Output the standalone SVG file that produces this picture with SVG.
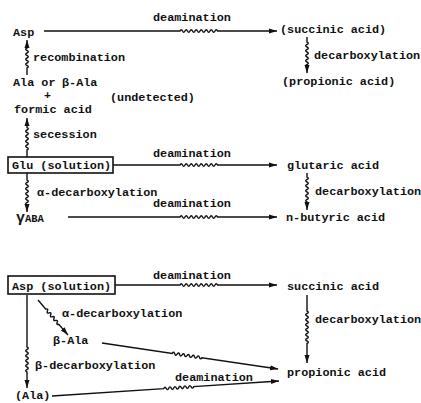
<svg xmlns="http://www.w3.org/2000/svg" width="421" height="403" viewBox="0 0 421 403">
  <style>
    .t { font-family: "Liberation Mono", "DejaVu Sans Mono", monospace; font-weight: bold; font-size: 11.8px; fill: #111; }
    .ln { fill: none; stroke: #111; stroke-width: 1.4; marker-end: url(#ah); }
    .box { fill: #fff; stroke: #111; stroke-width: 1.6; }
  </style>
  <defs>
    <marker id="ah" markerUnits="userSpaceOnUse" markerWidth="9" markerHeight="6" refX="8" refY="3" orient="auto">
      <path d="M0 0.5 L8 3 L0 5.5 z" fill="#111"/>
    </marker>
  </defs>
  <rect width="421" height="403" fill="#fff"/>

  <!-- connectors: straight runs with a wavy section -->
  <g id="connectors">
    <path class="ln" d="M44 31 H180 q1.25 -2.6 2.5 0 t2.5 0 t2.5 0 t2.5 0 t2.5 0 t2.5 0 t2.5 0 t2.5 0 t2.5 0 t2.5 0 t2.5 0 t2.5 0 t2.5 0 t2.5 0 t2.5 0 H277"/>
    <path class="ln" d="M307 37 V42 q2.6 1.25 0 2.5 t0 2.5 t0 2.5 t0 2.5 t0 2.5 t0 2.5 t0 2.5 t0 2.5 t0 2.5 t0 2.5 V73"/>
    <path class="ln" d="M27 75 V68 q2.6 -1.25 0 -2.5 t0 -2.5 t0 -2.5 t0 -2.5 t0 -2.5 t0 -2.5 t0 -2.5 t0 -2.5 V40"/>
    <path class="ln" d="M27 157 V150 q2.6 -1.25 0 -2.5 t0 -2.5 t0 -2.5 t0 -2.5 t0 -2.5 t0 -2.5 t0 -2.5 t0 -2.5 t0 -2.5 V118"/>
    <path class="ln" d="M113 165 H180 q1.25 -2.6 2.5 0 t2.5 0 t2.5 0 t2.5 0 t2.5 0 t2.5 0 t2.5 0 t2.5 0 t2.5 0 t2.5 0 t2.5 0 t2.5 0 t2.5 0 t2.5 0 t2.5 0 H277"/>
    <path class="ln" d="M307 173 V177 q2.6 1.25 0 2.5 t0 2.5 t0 2.5 t0 2.5 t0 2.5 t0 2.5 t0 2.5 t0 2.5 t0 2.5 t0 2.5 V210"/>
    <path class="ln" d="M27 173 V180 q2.6 1.25 0 2.5 t0 2.5 t0 2.5 t0 2.5 t0 2.5 t0 2.5 t0 2.5 t0 2.5 t0 2.5 t0 2.5 V212"/>
    <path class="ln" d="M68 217 H180 q1.25 -2.6 2.5 0 t2.5 0 t2.5 0 t2.5 0 t2.5 0 t2.5 0 t2.5 0 t2.5 0 t2.5 0 t2.5 0 t2.5 0 t2.5 0 t2.5 0 t2.5 0 t2.5 0 H277"/>
    <path class="ln" d="M115 285 H180 q1.25 -2.6 2.5 0 t2.5 0 t2.5 0 t2.5 0 t2.5 0 t2.5 0 t2.5 0 t2.5 0 t2.5 0 t2.5 0 t2.5 0 t2.5 0 t2.5 0 t2.5 0 t2.5 0 H277"/>
    <path class="ln" d="M307 295 V311 q2.6 1.25 0 2.5 t0 2.5 t0 2.5 t0 2.5 t0 2.5 t0 2.5 t0 2.5 t0 2.5 t0 2.5 t0 2.5 t0 2.5 t0 2.5 t0 2.5 V363"/>
    <path class="ln" d="M27 295 V347 q2.6 1.25 0 2.5 t0 2.5 t0 2.5 t0 2.5 t0 2.5 t0 2.5 t0 2.5 t0 2.5 t0 2.5 t0 2.5 V388"/>
    <path class="ln" transform="translate(38 300) rotate(49.4)" d="M0 0 H12 q1.25 -2.6 2.5 0 t2.5 0 t2.5 0 t2.5 0 t2.5 0 t2.5 0 t2.5 0 t2.5 0 H46"/>
    <path class="ln" transform="translate(102 343) rotate(8.4)" d="M0 0 H71 q1.25 -2.6 2.5 0 t2.5 0 t2.5 0 t2.5 0 t2.5 0 t2.5 0 t2.5 0 t2.5 0 t2.5 0 t2.5 0 t2.5 0 t2.5 0 H178"/>
    <path class="ln" transform="translate(52 396) rotate(-3.78)" d="M0 0 H112 q1.25 -2.6 2.5 0 t2.5 0 t2.5 0 t2.5 0 t2.5 0 t2.5 0 t2.5 0 t2.5 0 t2.5 0 t2.5 0 t2.5 0 t2.5 0 H227.5"/>

    <g id="edge-labels">
      <text class="t" x="153" y="21">deamination</text>
      <text class="t" x="314" y="59">decarboxylation</text>
      <text class="t" x="33" y="61">recombination</text>
      <text class="t" x="33" y="138">secession</text>
      <text class="t" x="153" y="157">deamination</text>
      <text class="t" x="315" y="195">decarboxylation</text>
      <text class="t" x="37" y="196">α-decarboxylation</text>
      <text class="t" x="153" y="207">deamination</text>
      <text class="t" x="153" y="279">deamination</text>
      <text class="t" x="62" y="317">α-decarboxylation</text>
      <text class="t" x="315" y="323">decarboxylation</text>
      <text class="t" x="35" y="369">β-decarboxylation</text>
      <text class="t" x="175" y="381">deamination</text>
    </g>
  </g>

  <!-- upper scheme -->
  <g id="asp"><text class="t" x="13" y="36">Asp</text></g>
  <g id="succinic-acid-1"><text class="t" x="280" y="33">(succinic acid)</text></g>
  <g id="propionic-acid-1"><text class="t" x="282" y="85">(propionic acid)</text></g>
  <g id="ala-formic">
    <text class="t" x="13" y="86">Ala or</text>
    <text class="t" x="62" y="86">β-Ala</text>
    <text class="t" x="44" y="98.5" font-size="9.5">+</text>
    <text class="t" x="110" y="101">(undetected)</text>
    <text class="t" x="14" y="113">formic acid</text>
  </g>
  <g id="glu-solution">
    <rect class="box" x="8" y="157" width="105" height="16"/>
    <text class="t" x="12" y="169">Glu (solution)</text>
  </g>
  <g id="glutaric-acid"><text class="t" x="287" y="169">glutaric acid</text></g>
  <g id="gaba"><text class="t" x="16" y="222"><tspan font-size="15">γ</tspan><tspan font-size="10.5">ABA</tspan></text></g>
  <g id="n-butyric-acid"><text class="t" x="286" y="221">n-butyric acid</text></g>

  <!-- lower scheme -->
  <g id="asp-solution">
    <rect class="box" x="8" y="276" width="107" height="18"/>
    <text class="t" x="12" y="290">Asp (solution)</text>
  </g>
  <g id="succinic-acid-2"><text class="t" x="287" y="290">succinic acid</text></g>
  <g id="beta-ala"><text class="t" x="53" y="344">β-Ala</text></g>
  <g id="propionic-acid-2"><text class="t" x="287" y="376">propionic acid</text></g>
  <g id="ala"><text class="t" x="15" y="399">(Ala)</text></g>
</svg>
